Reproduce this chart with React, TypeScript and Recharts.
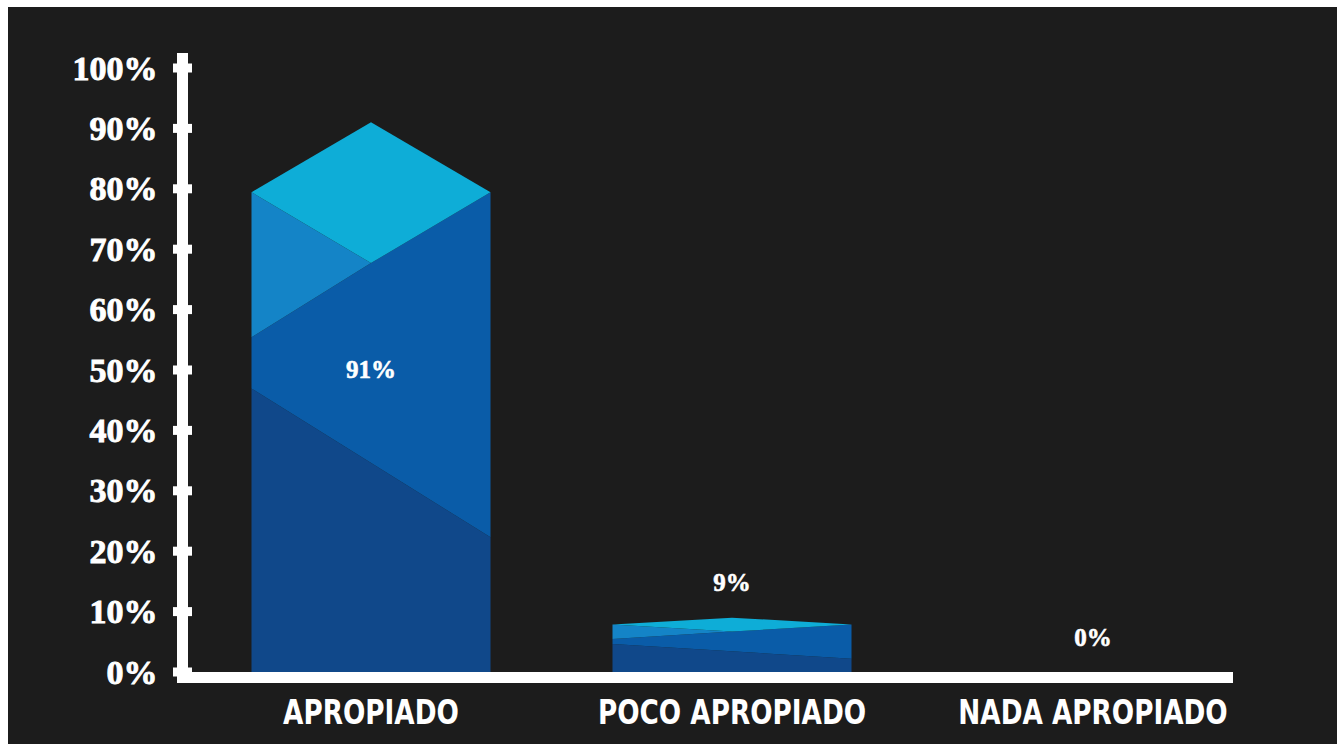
import { Bar, BarChart, LabelList, XAxis, YAxis, Customized, usePlotArea } from "recharts";

const categories = ["APROPIADO", "POCO APROPIADO", "NADA APROPIADO"];
const values = [91, 9, 0];
const yTicks = [0, 10, 20, 30, 40, 50, 60, 70, 80, 90, 100];

const data = categories.map((name, i) => ({ name, value: values[i] }));

const BG = "#1c1c1c";
const SERIF = "'Liberation Serif', 'DejaVu Serif', serif";
const NARROW = "'Liberation Sans Narrow', 'DejaVu Sans Condensed', sans-serif";

// faceted "crystal" bar: rhombus top + three slanted bands
function FacetBar(props: any) {
  const { x, y, width, height } = props;
  if (!height || height <= 0) return null;
  const base = y + height;
  const L = x;
  const R = x + width;
  const C = x + width / 2;
  const at = (f: number) => base - f * height;
  const side = at(0.873);
  const pt = (a: number, b: number) => `${a},${b}`;
  return (
    <g>
      <polygon
        points={[pt(L, at(0.516)), pt(R, at(0.245)), pt(R, base), pt(L, base)].join(" ")}
        fill="#10488a"
      />
      <polygon
        points={[pt(L, at(0.609)), pt(C, at(0.744)), pt(R, side), pt(R, at(0.245)), pt(L, at(0.516))].join(" ")}
        fill="#0a5ca8"
      />
      <polygon
        points={[pt(L, side), pt(C, at(0.744)), pt(L, at(0.609))].join(" ")}
        fill="#1484c7"
      />
      <polygon
        points={[pt(L, side), pt(C, y), pt(R, side), pt(C, at(0.744))].join(" ")}
        fill="#0eadd7"
      />
    </g>
  );
}

function ValueLabel(props: any) {
  const { x, y, width, height, value } = props;
  const cx = x + width / 2;
  const inside = value >= 50;
  const cy = inside ? y + height * 0.45 : y - 35;
  return (
    <text
      x={cx}
      y={cy}
      textAnchor="middle"
      dominantBaseline="central"
      fill="#fff"
      stroke="#fff"
      strokeWidth={0.6}
      fontFamily={SERIF}
      fontWeight={700}
      fontSize={25}
    >
      {value}%
    </text>
  );
}

function YTick(props: any) {
  const { x, y, payload } = props;
  return (
    <g>
      <rect x={x - 9.5} y={y - 4.5} width={19} height={9} fill="#fff" />
      <text
        x={x - 25}
        y={y}
        textAnchor="end"
        dominantBaseline="central"
        fill="#fff"
        stroke="#fff"
        strokeWidth={0.9}
        fontFamily={SERIF}
        fontWeight={700}
        fontSize={34}
      >
        {payload.value}%
      </text>
    </g>
  );
}

function XTick(props: any) {
  const { x, y, payload } = props;
  return (
    <text
      x={0}
      y={y + 40}
      transform={`translate(${x},0) scale(0.86,1)`}
      textAnchor="middle"
      dominantBaseline="central"
      fill="#fff"
      fontFamily={NARROW}
      fontWeight={700}
      fontSize={34}
    >
      {payload.value}
    </text>
  );
}

function AxisLines() {
  const area = usePlotArea();
  if (!area) return null;
  const { x, y, width, height } = area;
  return (
    <g>
      <rect x={x - 5.5} y={y - 15} width={11} height={height + 26} fill="#fff" />
      <rect x={x - 5.5} y={y + height} width={width - 35} height={11} fill="#fff" />
    </g>
  );
}

export default function App() {
  return (
    <div style={{ position: "absolute", left: 0, top: 0, width: 1342, height: 744, background: "#fff" }}>
      <div style={{ position: "absolute", left: 8, top: 7, width: 1329, height: 737, background: BG }} />
      <div style={{ position: "absolute", left: 0, top: 0 }}>
        <BarChart
          width={1342}
          height={744}
          data={data}
          margin={{ top: 68, right: 68.5, bottom: 0, left: 0 }}
        >
          <XAxis
            dataKey="name"
            height={72}
            padding={{ left: 8, right: 0 }}
            axisLine={false}
            tickLine={false}
            tickSize={0}
            tickMargin={0}
            tick={<XTick />}
          />
          <YAxis
            width={182.5}
            domain={[0, 100]}
            ticks={yTicks}
            interval={0}
            axisLine={false}
            tickLine={false}
            tickSize={0}
            tickMargin={0}
            tick={<YTick />}
          />
          <Bar dataKey="value" barSize={239} shape={<FacetBar />} isAnimationActive={false}>
            <LabelList dataKey="value" content={<ValueLabel />} />
          </Bar>
          <Customized component={<AxisLines />} />
        </BarChart>
      </div>
    </div>
  );
}
